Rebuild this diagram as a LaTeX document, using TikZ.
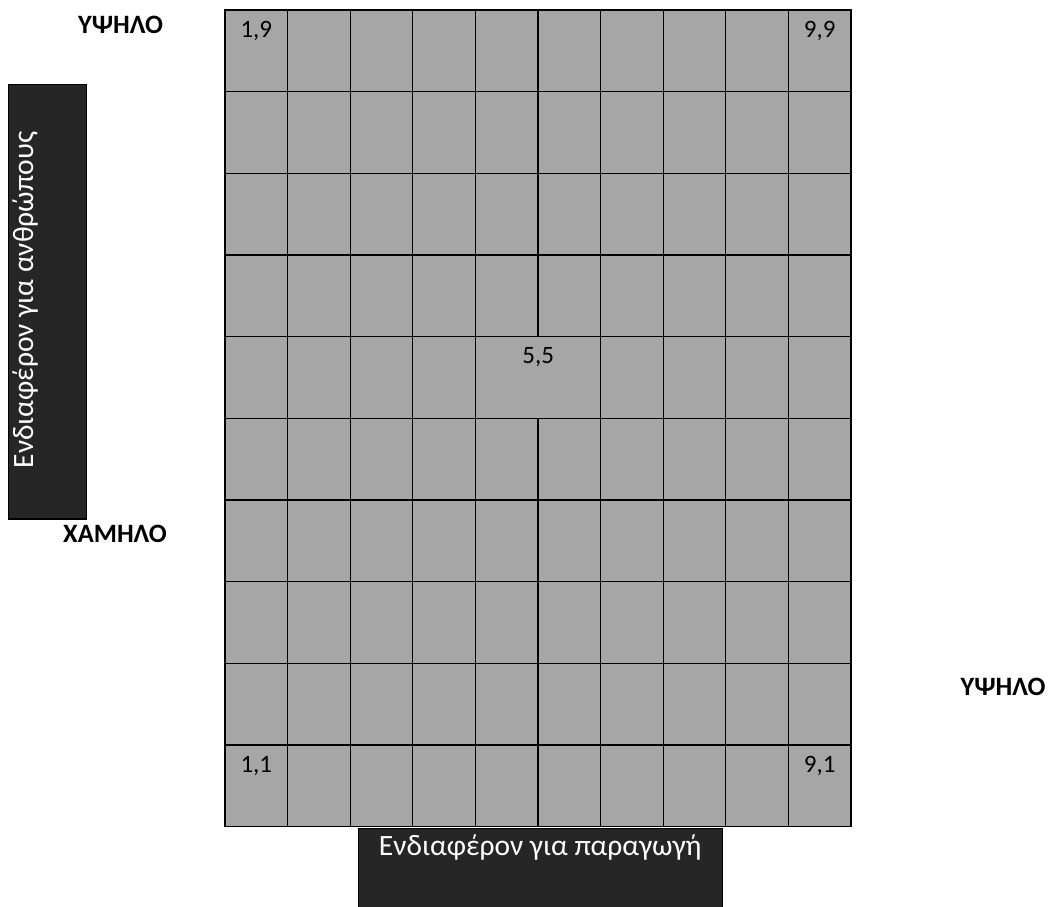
\documentclass[tikz,border=0pt]{standalone}
\usepackage{fontspec}
\setmainfont{Carlito}
\usepackage{tikz}
\definecolor{cellgray}{RGB}{166,166,166}
\definecolor{labeldark}{RGB}{38,38,38}
\begin{document}
\begin{tikzpicture}[
    x=1pt, y=-1pt,
    cell/.style={rectangle, draw=black, fill=cellgray, line width=1.3pt, minimum width=62.6pt, minimum height=81.65pt, inner sep=0pt},
    cellnum/.style={anchor=base, inner sep=0pt, font=\fontsize{25}{30}\selectfont},
    axisbox/.style={rectangle, draw=black, fill=labeldark, line width=1.3pt, inner sep=0pt},
    axistext/.style={anchor=base, inner sep=0pt, text=white, font=\fontsize{29.5}{35}\selectfont},
    levellabel/.style={anchor=base, inner sep=0pt, font=\fontsize{26.5}{32}\selectfont\bfseries}
]
\useasboundingbox (0,0) rectangle (1049,906);
% grid of cells, row 1 at the top
\foreach \r in {1,...,10}{
  \foreach \c in {1,...,10}{
    \pgfmathtruncatemacro{\merged}{(\r==5)&&((\c==5)||(\c==6))}
    \ifnum\merged=0
      \node[cell] (cell-\c-\r) at ({225+(\c-0.5)*62.6},{10+(\r-0.5)*81.65}) {};
    \fi
  }
}
\node[cell, minimum width=125.2pt] (cell-5-5) at (538.2, 377.4) {};
\node[cellnum] (n19) at ([yshift=-28pt]cell-1-1.north) {1,9};
\node[cellnum] (n99) at ([yshift=-28pt]cell-10-1.north) {9,9};
\node[cellnum] (n55) at ([yshift=-28pt]cell-5-5.north) {5,5};
\node[cellnum] (n11) at ([yshift=-28pt]cell-1-10.north) {1,1};
\node[cellnum] (n91) at ([yshift=-28pt]cell-10-10.north) {9,1};
% axis boxes
\node[axisbox, minimum width=78.4pt, minimum height=434.3pt] (ybox) at (47.5, 301.9) {};
\node[axistext, rotate=90] (ytext) at (33, 300) {Ενδιαφέρον για ανθρώπους};
\node[axisbox, minimum width=364pt, minimum height=84pt, anchor=north] (xbox) at (540.3, 828) {};
\node[axistext] (xtext) at (540.3, 855) {Ενδιαφέρον για παραγωγή};
% levels
\node[levellabel] (yhigh) at (120.5, 33.3) {ΥΨΗΛΟ};
\node[levellabel] (ylow) at (115, 542.7) {ΧΑΜΗΛΟ};
\node[levellabel] (xhigh) at (1003, 695) {ΥΨΗΛΟ};
\end{tikzpicture}
\end{document}
